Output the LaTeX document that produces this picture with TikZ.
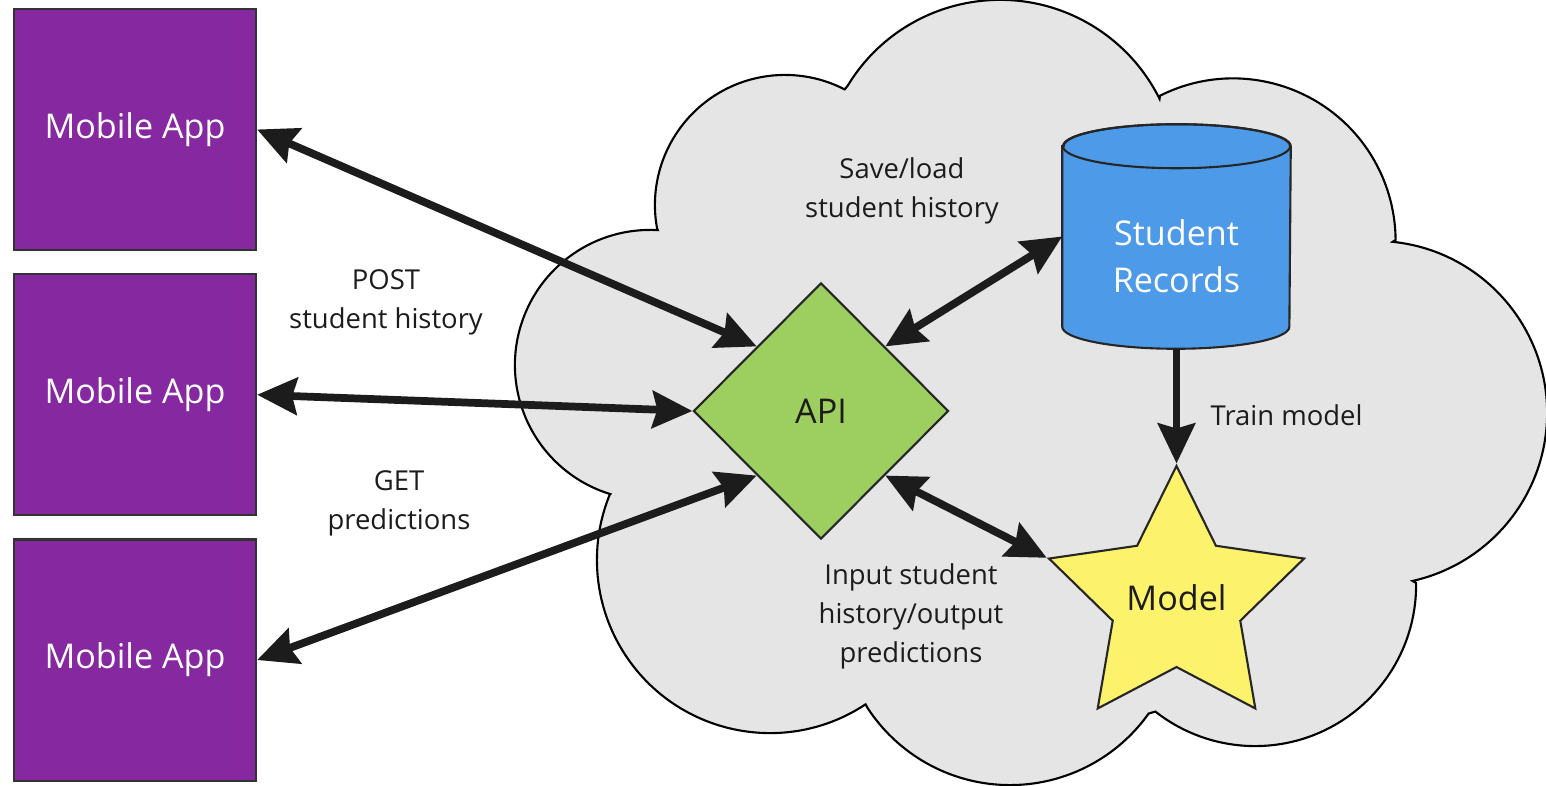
\documentclass[tikz,border=0pt]{standalone}
\usepackage{fontspec}
\setmainfont{Open Sans}
\usetikzlibrary{arrows.meta,positioning,shapes.geometric,calc}

\definecolor{appPurple}{RGB}{134,41,160}
\definecolor{apiGreen}{RGB}{157,206,96}
\definecolor{recBlue}{RGB}{77,155,232}
\definecolor{modelYellow}{RGB}{253,242,107}
\definecolor{cloudGray}{RGB}{229,229,229}
\definecolor{inkDark}{RGB}{28,28,28}

\begin{document}
\begin{tikzpicture}[
    x=0.01cm, y=-0.01cm,
    >={Stealth[length=0.4cm, width=0.37cm, inset=0.05cm]},
    bigfont/.style={font=\fontsize{9.7}{13.4}\selectfont},
    lbl/.style={font=\fontsize{7.8}{11.1}\selectfont, text=inkDark, align=center,
      inner sep=0pt},
    app/.style={draw=black!80, line width=0.6pt, fill=appPurple, text=white,
      bigfont, minimum width=2.42cm, minimum height=2.41cm, inner sep=0pt},
    shapeline/.style={draw=black!85, line width=0.6pt},
    arr/.style={line width=2.2pt, draw=inkDark},
  ]
    \useasboundingbox[fill=white] (0,0) rectangle (1546,786);

    % cloud behind the services, one arc per bump
    \filldraw[fill=cloudGray, draw=black, line width=0.6pt]
      ($(785,205)+(190.3:1.30cm)$)
        arc[start angle=190.3, end angle=62.7, radius=1.30cm]
      -- ($(1000,178)+(148.7:1.78cm)$)
        arc[start angle=148.7, end angle=26.4, radius=1.78cm]
      -- ($(1233,241)+(116.7:1.625cm)$)
        arc[start angle=116.7, end angle=0.4, radius=1.625cm]
      -- ($(1375,413)+(84.1:1.72cm)$)
        arc[start angle=84.1, end angle=-77.4, radius=1.72cm]
      -- ($(1255,585)+(0.7:1.61cm)$)
        arc[start angle=0.7, end angle=-128.2, radius=1.61cm]
      -- ($(1010,615)+(-35.4:1.70cm)$)
        arc[start angle=-35.4, end angle=-146.8, radius=1.70cm]
      -- ($(770,560)+(-56.5:1.73cm)$)
        arc[start angle=-56.5, end angle=-202.1, radius=1.73cm]
      -- ($(650,365)+(252.9:1.35cm)$)
        arc[start angle=252.9, end angle=86.7, radius=1.35cm]
      -- cycle;

    % clients
    \node[app] (app1) at (135,129.5) {Mobile App};
    \node[app, below=0.22cm of app1] (app2) {Mobile App};
    \node[app, below=0.22cm of app2] (app3) {Mobile App};

    % services
    \node[diamond, shapeline, fill=apiGreen, minimum width=2.55cm,
      minimum height=2.56cm, inner sep=0pt, bigfont, text=inkDark]
      (api) at (821,411) {API};

    \node[minimum width=2.27cm, minimum height=2.23cm, inner sep=0pt]
      (recs) at (1176.5,236.5) {};
    \filldraw[shapeline, fill=recBlue]
      ($(recs.north west)+(0,22)$) -- ($(recs.south west)+(0,-22)$)
      arc[start angle=180, end angle=360, x radius=1.135cm, y radius=0.22cm]
      -- ($(recs.north east)+(0,22)$)
      arc[start angle=0, end angle=180, x radius=1.135cm, y radius=0.22cm]
      -- cycle;
    \draw[shapeline] ($(recs.north)+(0,22)$)
      ellipse[x radius=1.135cm, y radius=0.22cm];
    \node[bigfont, text=white, align=center] (recsText)
      at ($(recs.center)+(0,20)$) {Student\\Records};

    \node[star, star points=5, star point ratio=2, shapeline, fill=modelYellow,
      minimum size=2.68cm, inner sep=0pt]
      (model) at (1176.5,600) {};
    \node[bigfont, text=inkDark] (modelText) at ($(model.center)+(0,-2)$) {Model};

    % connections
    \draw[arr, <->] (app1.east) -- (api.north west);
    \draw[arr, <->] (app2.east) -- (api.west);
    \draw[arr, <->] (app3.east) -- (api.south west);
    \draw[arr, <->] (api.north east) -- (recs.west);
    \draw[arr, <->] (api.south east) -- (model.outer point 2);
    \draw[arr, ->] (recs.south) -- (model.outer point 1);

    % labels
    \node[lbl] (postLbl) at (386,302) {POST\\student history};
    \node[lbl] (getLbl) at (399,503) {GET\\predictions};
    \node[lbl] (saveLbl) at (902,191) {Save/load\\student history};
    \node[lbl, anchor=west] (trainLbl) at (1210,415) {Train model};
    \node[lbl] (ioLbl) at (911,616) {Input student\\history/output\\predictions};
\end{tikzpicture}
\end{document}
